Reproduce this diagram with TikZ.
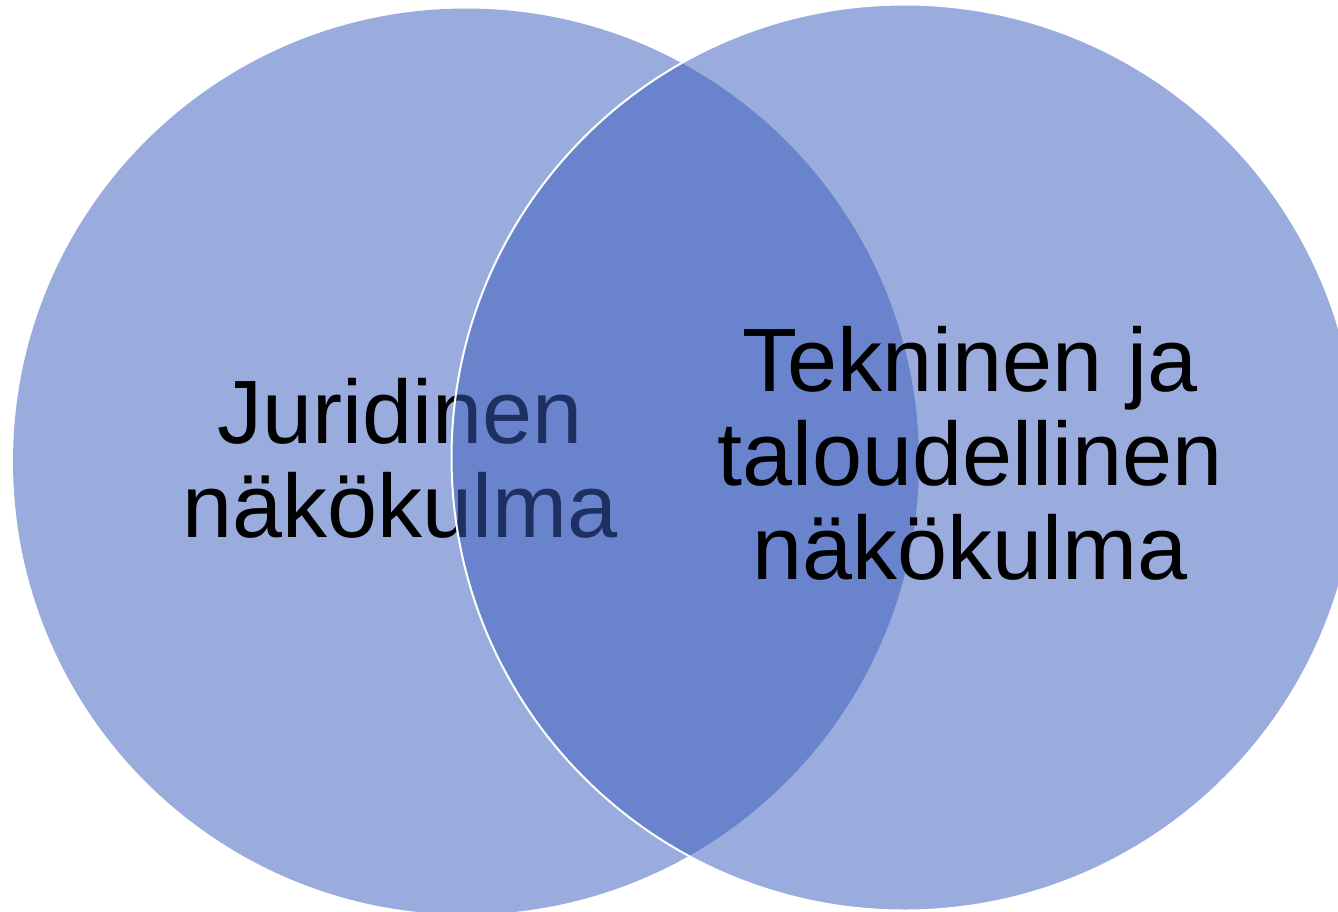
\documentclass[tikz,border=0pt]{standalone}
\usepackage{fontspec}
\setmainfont{Liberation Sans}
\definecolor{vennblue}{RGB}{59,94,189}
\begin{document}
\begin{tikzpicture}[x=1pt,y=-1pt,
  venn/.style={circle, inner sep=0pt, minimum size=906pt, fill=vennblue, fill opacity=0.515},
  venntext/.style={font=\fontsize{90}{94}\selectfont, align=center, inner sep=0pt, anchor=base, text=black, text opacity=1}]
\useasboundingbox (0,0) rectangle (1338,911);
\node[venn] (left) at (466,461.5) {};
\node[venntext] (juri) at (400,537) {Juridinen\\näkökulma};
\node[venn, draw=white, draw opacity=1, line width=2pt] (right) at (904.5,457.5) {};
\node[venntext] (tekn) at (970,579) {Tekninen ja\\taloudellinen\\näkökulma};
\end{tikzpicture}
\end{document}
